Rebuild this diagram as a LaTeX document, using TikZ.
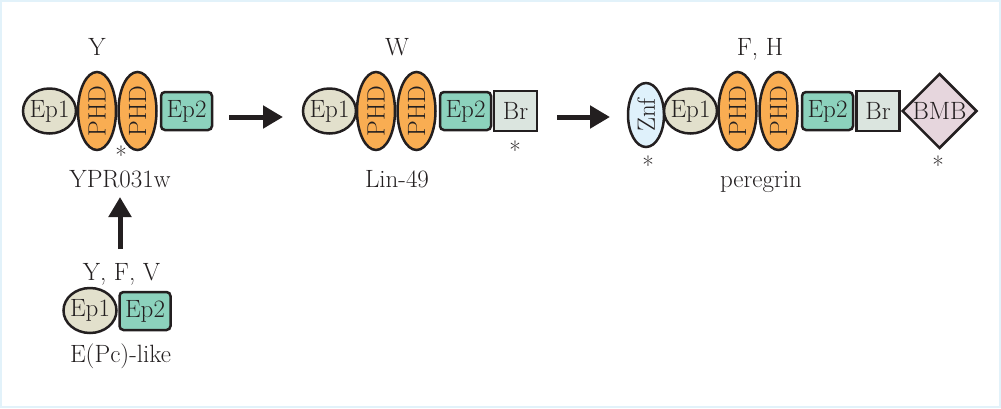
\documentclass[tikz,border=0pt]{standalone}
\usepackage{fontspec}
\usetikzlibrary{shapes.geometric,arrows.meta}
\definecolor{edge}{HTML}{231F20}
\definecolor{frame}{HTML}{E2F2FA}
\definecolor{epone}{HTML}{E2E0CC}
\definecolor{phd}{HTML}{F9AD52}
\definecolor{eptwo}{HTML}{8CD2BD}
\definecolor{br}{HTML}{DBE5DF}
\definecolor{znf}{HTML}{DFF1FB}
\definecolor{bmb}{HTML}{E6D6DD}
\begin{document}
\begin{tikzpicture}[x=1pt,y=-1pt,
    every node/.style={font=\fontsize{25}{29}\selectfont, inner sep=0pt, text=edge},
    dom/.style={draw=edge, line width=2.5pt},
    eponebox/.style={dom, ellipse, inner xsep=-2pt, fill=epone, minimum width=53pt, minimum height=45pt},
    phdbox/.style={dom, ellipse, inner xsep=-3pt, fill=phd, rotate=90, minimum width=78pt, minimum height=38pt},
    eptwobox/.style={dom, rectangle, rounded corners=4pt, fill=eptwo, minimum width=51pt, minimum height=38pt},
    brbox/.style={dom, rectangle, fill=br, minimum width=43pt, minimum height=40pt},
    znfbox/.style={dom, ellipse, fill=znf, rotate=90, minimum width=64pt, minimum height=36pt},
    bmbbox/.style={dom, diamond, inner sep=-4pt, fill=bmb, minimum width=75pt, minimum height=75pt},
    bigarrow/.style={line width=5pt, draw=edge, -{Triangle[length=20pt,width=22pt]}}]
    \useasboundingbox (0,0) rectangle (1001,408);
    \draw [frame, line width=2pt] (1,1) rectangle (1000,407);

    \node [eponebox] (ep1a) at (49.5,111) {Ep1};
    \node [phdbox] (phda1) at (97,111) {PHD};
    \node [phdbox] (phda2) at (137.5,111) {PHD};
    \node [eptwobox] (ep2a) at (186.5,111) {Ep2};
    \node [anchor=base] (ylab) at (97,55) {Y};
    \node (stara) at (121,155) {*};
    \node [anchor=base] (ypr) at (120,187) {YPR031w};

    \node [eponebox] (ep1b) at (329.5,111) {Ep1};
    \node [phdbox] (phdb1) at (376,111) {PHD};
    \node [phdbox] (phdb2) at (416.5,111) {PHD};
    \node [eptwobox] (ep2b) at (465.5,111) {Ep2};
    \node [brbox] (brb) at (515.5,111) {Br};
    \node [anchor=base] (wlab) at (397,55) {W};
    \node (starb) at (515,150) {*};
    \node [anchor=base] (lin) at (397,187) {Lin-49};

    \node [znfbox] (znfc) at (646,115) {Znf};
    \node [eponebox] (ep1c) at (690.5,111) {Ep1};
    \node [phdbox] (phdc1) at (737.5,111) {PHD};
    \node [phdbox] (phdc2) at (778.5,111) {PHD};
    \node [eptwobox] (ep2c) at (827.5,111) {Ep2};
    \node [brbox] (brc) at (878,111) {Br};
    \node [bmbbox] (bmbc) at (939.5,111) {BMB};
    \node [anchor=base] (fhlab) at (760,55) {F, H};
    \node (starc) at (648,165) {*};
    \node (stard) at (938,165) {*};
    \node [anchor=base] (pere) at (761,187) {peregrin};

    \node [eponebox] (ep1d) at (90,310.5) {Ep1};
    \node [eptwobox] (ep2d) at (145,311) {Ep2};
    \node [anchor=base] (yfvlab) at (121.5,280) {Y, F, V};
    \node [anchor=base] (epc) at (120.5,362) {E(Pc)-like};

    \coordinate (a1s) at (229,117);
    \coordinate (a1e) at (283,117);
    \coordinate (a2s) at (557,117);
    \coordinate (a2e) at (610,117);
    \coordinate (a3s) at (120,249);
    \coordinate (a3e) at (120,197);
    \draw [bigarrow] (a1s) -- (a1e);
    \draw [bigarrow] (a2s) -- (a2e);
    \draw [bigarrow] (a3s) -- (a3e);
  \end{tikzpicture}
\end{document}
